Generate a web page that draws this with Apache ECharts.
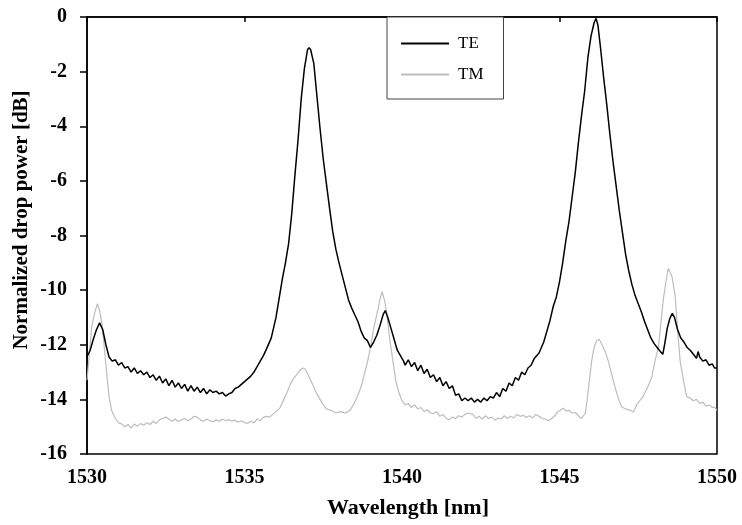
<!DOCTYPE html>
<html>
<head>
<meta charset="utf-8">
<script src="https://cdn.jsdelivr.net/npm/echarts@6/dist/echarts.min.js"></script>
<style>
html,body{margin:0;padding:0;background:#fff;}
#c{width:742px;height:525px;}
</style>
</head>
<body>
<div id="c"></div>
<script>
var xTicks = [1530, 1535, 1540, 1545, 1550];
var yTicks = [-16, -14, -12, -10, -8, -6, -4, -2, 0];

var teWl = [1530.00,1530.10,1530.20,1530.30,1530.40,1530.50,1530.60,1530.70,1530.80,1530.90,
1531.0,1531.1,1531.2,1531.3,1531.4,1531.5,1531.6,1531.7,1531.8,1531.9,1532.0,1532.1,1532.2,1532.3,1532.4,1532.5,1532.6,1532.7,1532.8,1532.9,1533.0,1533.1,1533.2,1533.3,1533.4,1533.5,1533.6,1533.7,1533.8,1533.9,1534.0,1534.1,1534.2,1534.3,1534.4,1534.5,1534.6,1534.7,1534.8,1534.9,1535.0,1535.1,1535.2,1535.3,1535.4,1535.5,
1535.60,1535.70,1535.85,1536.00,1536.10,1536.20,1536.30,1536.40,1536.50,1536.60,1536.70,1536.80,1536.90,1537.00,1537.05,1537.10,1537.20,1537.30,1537.40,1537.50,1537.60,1537.70,1537.80,1537.90,1538.00,1538.10,1538.20,1538.30,1538.40,1538.50,1538.60,1538.70,1538.80,1538.90,1539.00,1539.10,1539.20,1539.30,1539.40,1539.47,1539.55,1539.65,1539.75,1539.85,1539.95,
1540.05,1540.1,1540.2,1540.3,1540.4,1540.5,1540.6,1540.7,1540.8,1540.9,1541.0,1541.1,1541.2,1541.3,1541.4,1541.5,1541.6,1541.7,1541.8,1541.9,1542.0,1542.1,1542.2,1542.3,1542.4,1542.5,1542.6,1542.7,1542.8,1542.9,1543.0,1543.1,1543.2,1543.3,1543.4,1543.5,1543.6,1543.7,1543.8,1543.9,1544.0,1544.1,1544.2,
1544.35,1544.50,1544.60,1544.70,1544.80,1544.90,1545.00,1545.10,1545.20,1545.30,1545.40,1545.50,1545.60,1545.70,1545.80,1545.90,1546.00,1546.10,1546.16,1546.22,1546.30,1546.40,1546.50,1546.60,1546.70,1546.80,1546.90,1547.00,1547.10,1547.20,1547.30,1547.40,1547.50,1547.60,1547.70,1547.80,1547.90,1548.00,1548.10,1548.20,1548.28,1548.35,1548.42,1548.50,1548.58,1548.65,1548.75,1548.85,1548.95,1549.05,1549.15,1549.25,1549.35,1549.40,1549.45,1549.55,1549.65,1549.75,1549.85,1549.92,1550.00];
var teDb = [-12.44,-12.2,-11.8,-11.45,-11.2,-11.45,-12.0,-12.45,-12.6,-12.55,
-12.75,-12.65,-12.85,-12.8,-13.0,-12.85,-13.05,-12.95,-13.1,-13.0,-13.2,-13.1,-13.3,-13.15,-13.4,-13.25,-13.5,-13.3,-13.55,-13.4,-13.6,-13.45,-13.7,-13.5,-13.7,-13.55,-13.75,-13.6,-13.8,-13.65,-13.75,-13.7,-13.8,-13.75,-13.88,-13.8,-13.75,-13.6,-13.55,-13.45,-13.35,-13.25,-13.15,-13.0,-12.8,-12.6,
-12.4,-12.15,-11.75,-11.0,-10.3,-9.6,-9.0,-8.3,-7.2,-5.8,-4.5,-3.0,-1.9,-1.2,-1.12,-1.2,-1.7,-2.9,-4.1,-5.2,-6.1,-7.0,-7.85,-8.5,-9.0,-9.45,-9.9,-10.35,-10.65,-10.9,-11.15,-11.5,-11.75,-11.85,-12.1,-11.9,-11.65,-11.3,-10.9,-10.75,-11.0,-11.4,-11.8,-12.2,-12.4,
-12.6,-12.75,-12.55,-12.8,-12.65,-12.95,-12.75,-13.05,-12.9,-13.2,-13.1,-13.35,-13.2,-13.5,-13.35,-13.6,-13.5,-13.85,-13.8,-14.05,-13.95,-14.05,-13.95,-14.1,-14.0,-14.1,-13.95,-14.05,-13.9,-13.95,-13.75,-13.9,-13.6,-13.7,-13.4,-13.5,-13.2,-13.3,-13.0,-13.1,-12.85,-12.75,-12.5,
-12.3,-11.9,-11.5,-11.1,-10.6,-10.25,-9.7,-9.0,-8.2,-7.5,-6.6,-5.7,-4.6,-3.6,-2.7,-1.5,-0.7,-0.2,-0.05,-0.3,-1.1,-2.2,-3.2,-4.3,-5.3,-6.2,-7.1,-7.9,-8.7,-9.3,-9.8,-10.2,-10.5,-10.8,-11.15,-11.45,-11.75,-11.95,-12.1,-12.25,-12.35,-11.9,-11.4,-11.05,-10.85,-11.0,-11.45,-11.75,-11.9,-12.1,-12.2,-12.35,-12.5,-12.25,-12.45,-12.6,-12.55,-12.75,-12.7,-12.85,-12.85];

var tmWl = [1530.00,1530.08,1530.15,1530.25,1530.33,1530.40,1530.47,1530.55,1530.63,1530.70,1530.78,
1530.9,1531.0,1531.1,1531.2,1531.3,1531.4,1531.5,1531.6,1531.7,1531.8,1531.9,1532.0,1532.1,1532.2,1532.3,1532.4,1532.5,1532.6,1532.7,1532.8,1532.9,1533.0,1533.1,1533.2,1533.3,1533.4,1533.5,1533.6,1533.7,1533.8,1533.9,1534.0,1534.1,1534.2,1534.3,1534.4,1534.5,1534.6,1534.7,1534.8,1534.9,1535.0,1535.1,1535.2,1535.3,1535.4,1535.5,1535.6,1535.7,1535.8,1535.9,1536.0,
1536.13,1536.25,1536.35,1536.45,1536.55,1536.65,1536.75,1536.85,1536.92,1537.00,1537.10,1537.20,1537.30,1537.40,1537.50,1537.60,1537.75,1537.90,1538.05,1538.20,1538.35,1538.50,1538.60,1538.70,1538.80,1538.90,1539.00,1539.10,1539.20,1539.30,1539.37,1539.45,1539.52,1539.60,1539.70,1539.80,1539.90,
1540.0,1540.1,1540.2,1540.3,1540.4,1540.5,1540.6,1540.7,1540.8,1540.9,1541.0,1541.1,1541.2,1541.3,1541.4,1541.5,1541.6,1541.7,1541.8,1541.9,1542.0,1542.1,1542.16,1542.25,1542.35,1542.45,1542.55,1542.65,1542.75,1542.85,1542.95,1543.05,1543.15,1543.25,1543.35,1543.45,1543.55,1543.65,1543.75,1543.85,1543.95,1544.05,1544.15,1544.25,1544.35,1544.45,1544.55,1544.65,1544.75,1544.85,1544.95,1545.05,1545.12,1545.2,1545.3,1545.4,1545.5,1545.6,1545.7,1545.76,1545.82,1545.88,
1545.95,1546.02,1546.10,1546.18,1546.26,1546.35,1546.45,1546.55,1546.65,1546.75,1546.85,1546.97,1547.10,1547.25,1547.35,1547.45,1547.55,1547.65,1547.80,1547.93,1548.05,1548.14,1548.22,1548.30,1548.38,1548.45,1548.50,1548.57,1548.67,1548.75,1548.83,1548.95,1549.04,1549.15,1549.25,1549.35,1549.45,1549.55,1549.65,1549.75,1549.85,1549.92,1550.00];
var tmDb = [-13.3,-12.3,-11.34,-10.8,-10.5,-10.75,-11.2,-12.1,-13.1,-13.9,-14.4,
-14.7,-14.85,-14.9,-15.0,-14.92,-15.05,-14.9,-14.98,-14.88,-14.95,-14.85,-14.92,-14.8,-14.88,-14.75,-14.7,-14.65,-14.72,-14.8,-14.72,-14.82,-14.75,-14.7,-14.78,-14.72,-14.62,-14.65,-14.75,-14.8,-14.72,-14.78,-14.82,-14.75,-14.8,-14.72,-14.78,-14.74,-14.8,-14.76,-14.84,-14.78,-14.85,-14.88,-14.8,-14.86,-14.72,-14.78,-14.66,-14.62,-14.65,-14.55,-14.45,
-14.3,-14.0,-13.75,-13.45,-13.25,-13.1,-12.95,-12.85,-12.88,-13.05,-13.3,-13.55,-13.8,-14.0,-14.2,-14.35,-14.4,-14.5,-14.45,-14.5,-14.4,-14.1,-13.85,-13.55,-13.1,-12.65,-12.1,-11.4,-10.9,-10.35,-10.05,-10.4,-10.9,-11.7,-12.5,-13.3,-13.75,
-14.05,-14.2,-14.15,-14.3,-14.2,-14.35,-14.3,-14.45,-14.38,-14.5,-14.52,-14.45,-14.62,-14.55,-14.7,-14.74,-14.65,-14.7,-14.6,-14.65,-14.55,-14.5,-14.44,-14.55,-14.7,-14.62,-14.72,-14.6,-14.7,-14.65,-14.76,-14.68,-14.72,-14.6,-14.7,-14.62,-14.68,-14.55,-14.62,-14.58,-14.66,-14.6,-14.68,-14.55,-14.62,-14.7,-14.72,-14.78,-14.7,-14.6,-14.45,-14.38,-14.32,-14.42,-14.4,-14.5,-14.48,-14.6,-14.7,-14.7,-14.5,-14.0,
-13.3,-12.6,-12.1,-11.85,-11.8,-12.0,-12.25,-12.6,-13.05,-13.5,-13.9,-14.27,-14.35,-14.4,-14.46,-14.2,-14.05,-13.9,-13.55,-13.18,-12.5,-12.1,-11.2,-10.3,-9.7,-9.2,-9.15,-9.5,-10.2,-11.5,-12.6,-13.4,-13.9,-13.95,-14.05,-14.0,-14.15,-14.1,-14.25,-14.2,-14.3,-14.28,-14.4];

function pairs(xs, ys){ return xs.map(function(x,i){ return [x, ys[i]]; }); }

var chart = echarts.init(document.getElementById('c'), null, {renderer:'canvas'});
var serif = '"Liberation Serif","Times New Roman",serif';
chart.setOption({
  animation:false,
  backgroundColor:'#ffffff',
  grid:{left:87, right:25, top:17, bottom:71, show:true, borderColor:'#000', borderWidth:1.5, backgroundColor:'transparent'},
  legend:{
    orient:'vertical', left:387, top:17,
    itemWidth:48, itemHeight:14, itemGap:14,
    padding:[18,20,16,13],
    borderColor:'#444', borderWidth:1, backgroundColor:'#fff',
    itemStyle:{opacity:0},
    textStyle:{fontFamily:serif, fontSize:17, color:'#000', padding:[0,0,0,4]},
    data:['TE','TM']
  },
  xAxis:{
    type:'value', min:1530, max:1550, interval:5,
    axisLine:{lineStyle:{color:'#000', width:1.5}},
    axisTick:{show:true, length:5, inside:false, lineStyle:{color:'#000', width:1.5}},
    axisLabel:{fontFamily:serif, fontWeight:'bold', fontSize:20, color:'#000', margin:14,
      formatter:function(v){ return xTicks.indexOf(v) >= 0 ? String(v) : ''; }},
    splitLine:{show:false}
  },
  yAxis:{
    type:'value', min:-16, max:0, interval:2,
    axisLine:{lineStyle:{color:'#000', width:1.5}},
    axisTick:{show:true, length:7, inside:false, lineStyle:{color:'#000', width:1.5}},
    axisLabel:{fontFamily:serif, fontWeight:'bold', fontSize:20, color:'#000', margin:20,
      formatter:function(v){ return yTicks.indexOf(v) >= 0 ? String(v) : ''; }},
    splitLine:{show:false}
  },
  graphic:[
    {type:'text', x:408, y:497, style:{text:'Wavelength [nm]', font:'bold 22px ' + serif, fill:'#000', textAlign:'center', textVerticalAlign:'top'}},
    {type:'text', rotation:Math.PI/2, x:22, y:220, style:{text:'Normalized drop power [dB]', font:'bold 21px ' + serif, fill:'#000', textAlign:'center', textVerticalAlign:'middle'}}
  ],
  series:[
    {name:'TE', type:'line', data:pairs(teWl, teDb), symbol:'none', lineStyle:{color:'#000', width:1.5}, itemStyle:{color:'#000'}, z:3},
    {name:'TM', type:'line', data:pairs(tmWl, tmDb), symbol:'none', lineStyle:{color:'#bdbdbd', width:1.2}, itemStyle:{color:'#bdbdbd'}, z:2}
  ]
});
</script>
</body>
</html>
